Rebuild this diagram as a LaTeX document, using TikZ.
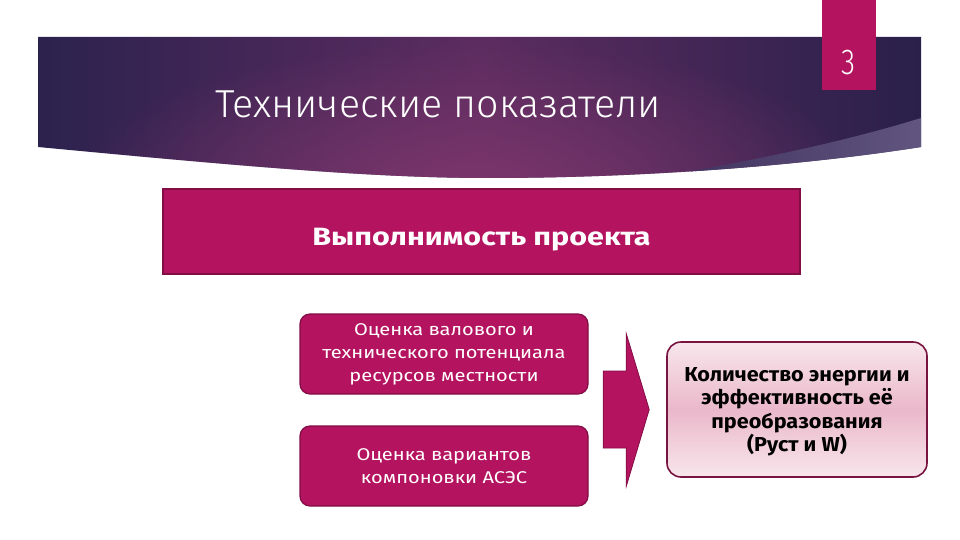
\documentclass[tikz,border=0pt]{standalone}
\usepackage{fontspec}
\setmainfont{Fira Sans}[FakeStretch=1.18]
\newfontfamily\titlefont{Fira Sans Light}[FakeStretch=1.01]
\newfontfamily\numfont{Fira Sans Light}[FakeStretch=0.8]
\newfontfamily\mainbold{Fira Sans}[FakeStretch=1.22,UprightFont=* Bold]
\newfontfamily\boxbold{Fira Sans}[FakeStretch=1.07,UprightFont=* Bold]
\usetikzlibrary{fadings}
\definecolor{navy}{RGB}{44,34,78}
\definecolor{plum}{RGB}{92,44,96}
\definecolor{glow}{RGB}{124,54,108}
\definecolor{wedgecol}{RGB}{104,92,134}
\definecolor{magenta}{RGB}{180,20,95}
\definecolor{magdark}{RGB}{130,12,68}
\definecolor{pinktop}{RGB}{248,230,236}
\definecolor{pinkmid}{RGB}{234,184,202}
\definecolor{maroon}{RGB}{120,20,64}
\tikzfading[name=glowfade, inner color=transparent!0, outer color=transparent!100]
\tikzset{
  magbox/.style={fill=magenta, draw=magdark, line width=1.2pt, text=white, inner sep=0pt},
  roundbox/.style={magbox, rounded corners=10pt, minimum width=288, minimum height=80, align=center,
     font=\fontsize{17}{23}\selectfont},
  resbox/.style={top color=pinktop, bottom color=pinktop, middle color=pinkmid, draw=maroon, line width=1.6pt,
     rounded corners=14pt, minimum width=260, minimum height=135},
  restext/.style={align=center, text=black, inner sep=0pt, font=\boxbold\fontsize{20.2}{23.5}\selectfont},
}
\begin{document}
\begin{tikzpicture}[x=1pt,y=-1pt]
\useasboundingbox (0,0) rectangle (960,540);
\fill[white] (0,0) rectangle (960,540);
% banner
\def\bannerpath{(38,37) -- (921,37) -- (921,147) .. controls (800,166) and (640,178) .. (490,178) .. controls (380,178) and (260,168) .. (38,147) -- cycle}
\shade[left color=navy, right color=navy!95!black, middle color=plum] \bannerpath;
\begin{scope}
  \clip \bannerpath;
  \fill[glow, path fading=glowfade] (470,190) ellipse [x radius=400, y radius=150];
  \shade[left color=navy!80!wedgecol, right color=wedgecol, opacity=0.9]
     (921,118) .. controls (850,140) and (760,160) .. (640,180) -- (921,180) -- cycle;
\end{scope}
\node[text=white, anchor=base west, inner sep=0pt, font=\titlefont\fontsize{39}{41}\selectfont] (title) at (215,118) {Технические показатели};
% page number
\fill[magenta] (822,0) rectangle (876,90);
\node[text=white, inner sep=0pt, anchor=base, font=\numfont\fontsize{36}{38}\selectfont] (pnum) at (848,75) {3};
% main box
\node[magbox, minimum width=637, minimum height=85, text height=27pt, text depth=0pt,
      font=\mainbold\fontsize{25}{28}\selectfont] (feas) at (481.5,231.5) {Выполнимость проекта};
% left boxes
\node[roundbox] (est1) at (444,354) {Оценка валового и\\технического потенциала\\ресурсов местности};
\node[roundbox] (est2) at (444,466) {Оценка вариантов\\компоновки АСЭС};
% right box
\node[resbox] (res) at (797,409.5) {};
\node[restext] (restxt) at ([yshift=-2]res.center) {Количество энергии и\\эффективность её\\преобразования\\(Руст и W)};
% block arrow
\coordinate (atip) at ([xshift=-17]res.west);
\fill[magenta, draw=magdark, line width=0.8pt]
  ([xshift=-46,yshift=38.5]atip) -- ([xshift=-23,yshift=38.5]atip) -- ([xshift=-23,yshift=76]atip)
  -- (atip) -- ([xshift=-23,yshift=-77]atip) -- ([xshift=-23,yshift=-38.5]atip)
  -- ([xshift=-46,yshift=-38.5]atip) -- cycle;
\end{tikzpicture}
\end{document}
